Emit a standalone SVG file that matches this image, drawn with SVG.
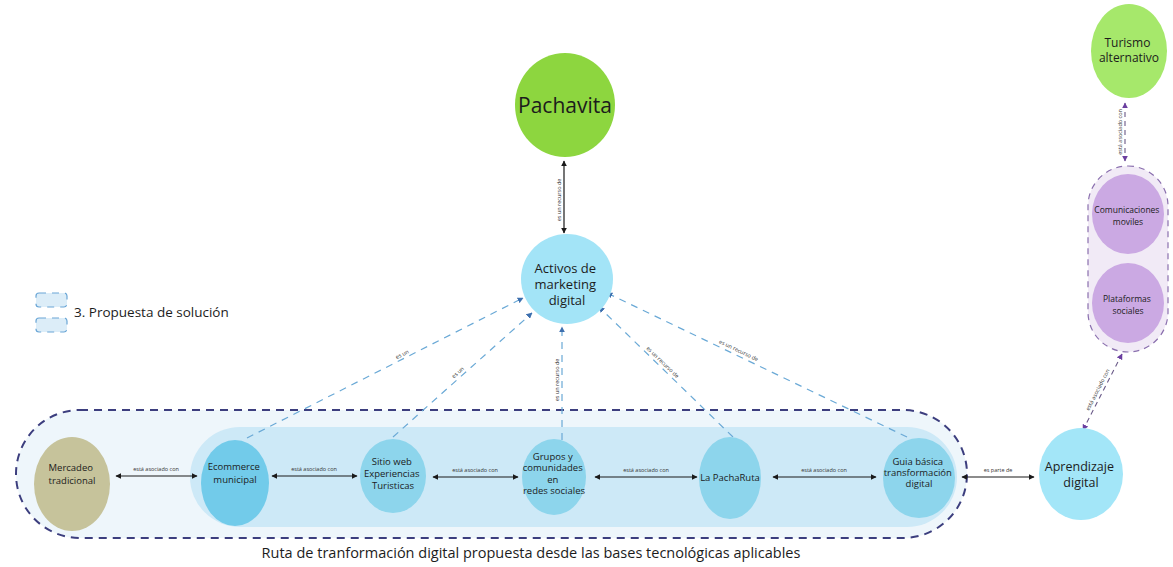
<svg xmlns="http://www.w3.org/2000/svg" width="1173" height="567" viewBox="0 0 1173 567">
  <style>
    .t { font-family: "Open Sans", "Noto Sans", "DejaVu Sans", sans-serif; fill: #1c1c1c; text-anchor: middle; }
    .lbl { font-family: "Open Sans", "Noto Sans", sans-serif; font-size: 5.5px; fill: #333; text-anchor: middle; }
    .assoc { stroke: #1a1a1a; stroke-width: 1.2; fill: none; }
    .blue { stroke: #6aa9d6; stroke-width: 1.2; stroke-dasharray: 7 6; fill: none; }
    .purp { stroke: #6a5a88; stroke-width: 1.1; stroke-dasharray: 5 4; fill: none; }
    .row { fill: #8dd5ec; }
  </style>
  <defs>
    <marker id="ah" viewBox="0 0 10 10" refX="9" refY="5" markerWidth="6" markerHeight="6" orient="auto-start-reverse" markerUnits="userSpaceOnUse">
      <path d="M0,0 L10,5 L0,10 z" fill="#1a1a1a"/>
    </marker>
    <marker id="ahb" viewBox="0 0 10 10" refX="9" refY="5" markerWidth="6" markerHeight="6" orient="auto" markerUnits="userSpaceOnUse">
      <path d="M0,0 L10,5 L0,10 z" fill="#3d6fae"/>
    </marker>
    <marker id="ahp" viewBox="0 0 10 10" refX="9" refY="5" markerWidth="6" markerHeight="6" orient="auto-start-reverse" markerUnits="userSpaceOnUse">
      <path d="M0,0 L10,5 L0,10 z" fill="#6b3fa0"/>
    </marker>
  </defs>

  <rect width="1173" height="567" fill="#ffffff"/>

  <!-- grouping areas -->
  <g id="route-area">
    <rect x="16" y="410" width="951" height="128" rx="64" ry="64" fill="#eef6fb" stroke="#3c3e7e" stroke-width="2" stroke-dasharray="8 6"/>
    <rect x="190" y="427" width="767" height="100" rx="50" ry="50" fill="#cde9f7"/>
    <text class="t" x="531" y="558" font-size="14.5">Ruta de tranformación digital propuesta desde las bases tecnológicas aplicables</text>
  </g>
  <g id="channels-area">
    <rect x="1088" y="166" width="80" height="186" rx="40" ry="40" fill="#f1eaf6" stroke="#8a6fae" stroke-width="1.2" stroke-dasharray="6 5"/>
  </g>

  <!-- legend -->
  <g id="legend">
    <rect x="36" y="293" width="31" height="14" rx="3" fill="#dcedf8" stroke="#6aa6d6" stroke-width="1.2" stroke-dasharray="7 6"/>
    <rect x="36" y="318" width="31" height="14" rx="3" fill="#dcedf8" stroke="#6aa6d6" stroke-width="1.2" stroke-dasharray="7 6"/>
    <text x="74" y="317" font-family="Open Sans, Noto Sans, sans-serif" font-size="13.5" fill="#1c1c1c">3. Propuesta de solución</text>
  </g>

  <!-- connectors -->
  <g id="connectors">
    <!-- Pachavita / Activos -->
    <line class="assoc" x1="564" y1="161" x2="564" y2="233" marker-start="url(#ah)" marker-end="url(#ah)"/>
    <text class="lbl" transform="translate(561,200) rotate(-90)">es un recurso de</text>

    <!-- route chain -->
    <line class="assoc" x1="116" y1="476" x2="197" y2="476" marker-start="url(#ah)" marker-end="url(#ah)"/>
    <text class="lbl" x="156" y="471">está asociado con</text>
    <line class="assoc" x1="272" y1="476" x2="357" y2="476" marker-start="url(#ah)" marker-end="url(#ah)"/>
    <text class="lbl" x="314" y="471">está asociado con</text>
    <line class="assoc" x1="433" y1="477" x2="518" y2="477" marker-start="url(#ah)" marker-end="url(#ah)"/>
    <text class="lbl" x="475" y="472">está asociado con</text>
    <line class="assoc" x1="595" y1="477" x2="697" y2="477" marker-start="url(#ah)" marker-end="url(#ah)"/>
    <text class="lbl" x="646" y="472">está asociado con</text>
    <line class="assoc" x1="773" y1="477" x2="876" y2="477" marker-start="url(#ah)" marker-end="url(#ah)"/>
    <text class="lbl" x="824" y="472">está asociado con</text>
    <line class="assoc" x1="962" y1="477" x2="1034" y2="477" marker-start="url(#ah)" marker-end="url(#ah)"/>
    <text class="lbl" x="998" y="472">es parte de</text>

    <!-- resources feeding the marketing assets -->
    <line class="blue" x1="247" y1="438" x2="523" y2="298" marker-end="url(#ahb)"/>
    <text class="lbl" transform="translate(403,356) rotate(-27)">es un</text>
    <line class="blue" x1="393" y1="437" x2="532" y2="313" marker-end="url(#ahb)"/>
    <text class="lbl" transform="translate(459,374) rotate(-41.7)">es un</text>
    <line class="blue" x1="562" y1="440" x2="562" y2="327" marker-end="url(#ahb)"/>
    <text class="lbl" transform="translate(559,380) rotate(-90)">es un recurso de</text>
    <line class="blue" x1="733" y1="437" x2="599" y2="307" marker-end="url(#ahb)"/>
    <text class="lbl" transform="translate(660,365) rotate(44)" y="-2">es un recurso de</text>
    <line class="blue" x1="907" y1="437" x2="607" y2="293" marker-end="url(#ahb)"/>
    <text class="lbl" transform="translate(737,354) rotate(25.6)" y="-2">es un recurso de</text>

    <!-- channels links -->
    <line class="purp" x1="1125" y1="103" x2="1125" y2="161" marker-start="url(#ahp)" marker-end="url(#ahp)"/>
    <text class="lbl" transform="translate(1122,132) rotate(-90)">está asociado con</text>
    <line class="purp" x1="1122" y1="354" x2="1083" y2="430" marker-start="url(#ahp)" marker-end="url(#ahp)"/>
    <text class="lbl" transform="translate(1102,392) rotate(-63)" y="-3">está asociado con</text>
  </g>

  <!-- nodes -->
  <g id="node-pachavita">
    <ellipse cx="565" cy="105" rx="50" ry="52" fill="#8dd63f"/>
    <text class="t" x="565" y="113" font-size="21">Pachavita</text>
  </g>
  <g id="node-activos">
    <ellipse cx="567" cy="279" rx="46" ry="45" fill="#a3e4f7"/>
    <text class="t" font-size="13">
      <tspan x="567" y="273">Activos de</tspan>
      <tspan x="567" y="289">marketing</tspan>
      <tspan x="567" y="305">digital</tspan>
    </text>
  </g>
  <g id="node-turismo">
    <ellipse cx="1129" cy="51" rx="38" ry="47" fill="#a6e86b"/>
    <text class="t" font-size="12">
      <tspan x="1129" y="47">Turismo</tspan>
      <tspan x="1129" y="62">alternativo</tspan>
    </text>
  </g>
  <g id="node-comunicaciones">
    <ellipse cx="1128" cy="214" rx="36" ry="40" fill="#cba9e3"/>
    <text class="t" font-size="8.5">
      <tspan x="1128" y="213">Comunicaciones</tspan>
      <tspan x="1128" y="225">moviles</tspan>
    </text>
  </g>
  <g id="node-plataformas">
    <ellipse cx="1128" cy="303" rx="36" ry="40" fill="#cba9e3"/>
    <text class="t" font-size="8.5">
      <tspan x="1128" y="302">Plataformas</tspan>
      <tspan x="1128" y="314">sociales</tspan>
    </text>
  </g>
  <g id="node-aprendizaje">
    <ellipse cx="1081" cy="474" rx="42" ry="46" fill="#a3e6f8"/>
    <text class="t" font-size="12.5">
      <tspan x="1081" y="471">Aprendizaje</tspan>
      <tspan x="1081" y="487">digital</tspan>
    </text>
  </g>
  <g id="node-mercadeo">
    <ellipse cx="72" cy="484" rx="38" ry="47" fill="#c6c39b"/>
    <text class="t" font-size="9.5">
      <tspan x="72" y="471">Mercadeo</tspan>
      <tspan x="72" y="484">tradicional</tspan>
    </text>
  </g>
  <g id="node-ecommerce">
    <ellipse cx="235" cy="483" rx="34" ry="43" fill="#72cbea"/>
    <text class="t" font-size="9.5">
      <tspan x="235" y="470">Ecommerce</tspan>
      <tspan x="235" y="483">municipal</tspan>
    </text>
  </g>
  <g id="node-sitio">
    <ellipse cx="393" cy="476" rx="33" ry="37" class="row"/>
    <text class="t" font-size="9.5">
      <tspan x="393" y="465">Sitio web</tspan>
      <tspan x="393" y="477">Experiencias</tspan>
      <tspan x="393" y="489">Turisticas</tspan>
    </text>
  </g>
  <g id="node-grupos">
    <ellipse cx="554" cy="477" rx="32" ry="38" class="row"/>
    <text class="t" font-size="9.5">
      <tspan x="554" y="460">Grupos y</tspan>
      <tspan x="554" y="471">comunidades</tspan>
      <tspan x="554" y="483">en</tspan>
      <tspan x="554" y="494">redes sociales</tspan>
    </text>
  </g>
  <g id="node-pacharuta">
    <ellipse cx="730" cy="478" rx="31" ry="41" class="row"/>
    <text class="t" x="730" y="481" font-size="9.5">La PachaRuta</text>
  </g>
  <g id="node-guia">
    <ellipse cx="919" cy="478" rx="36" ry="40" class="row"/>
    <text class="t" font-size="9.5">
      <tspan x="919" y="465">Guia básica</tspan>
      <tspan x="919" y="476">transformación</tspan>
      <tspan x="919" y="487">digital</tspan>
    </text>
  </g>
</svg>
